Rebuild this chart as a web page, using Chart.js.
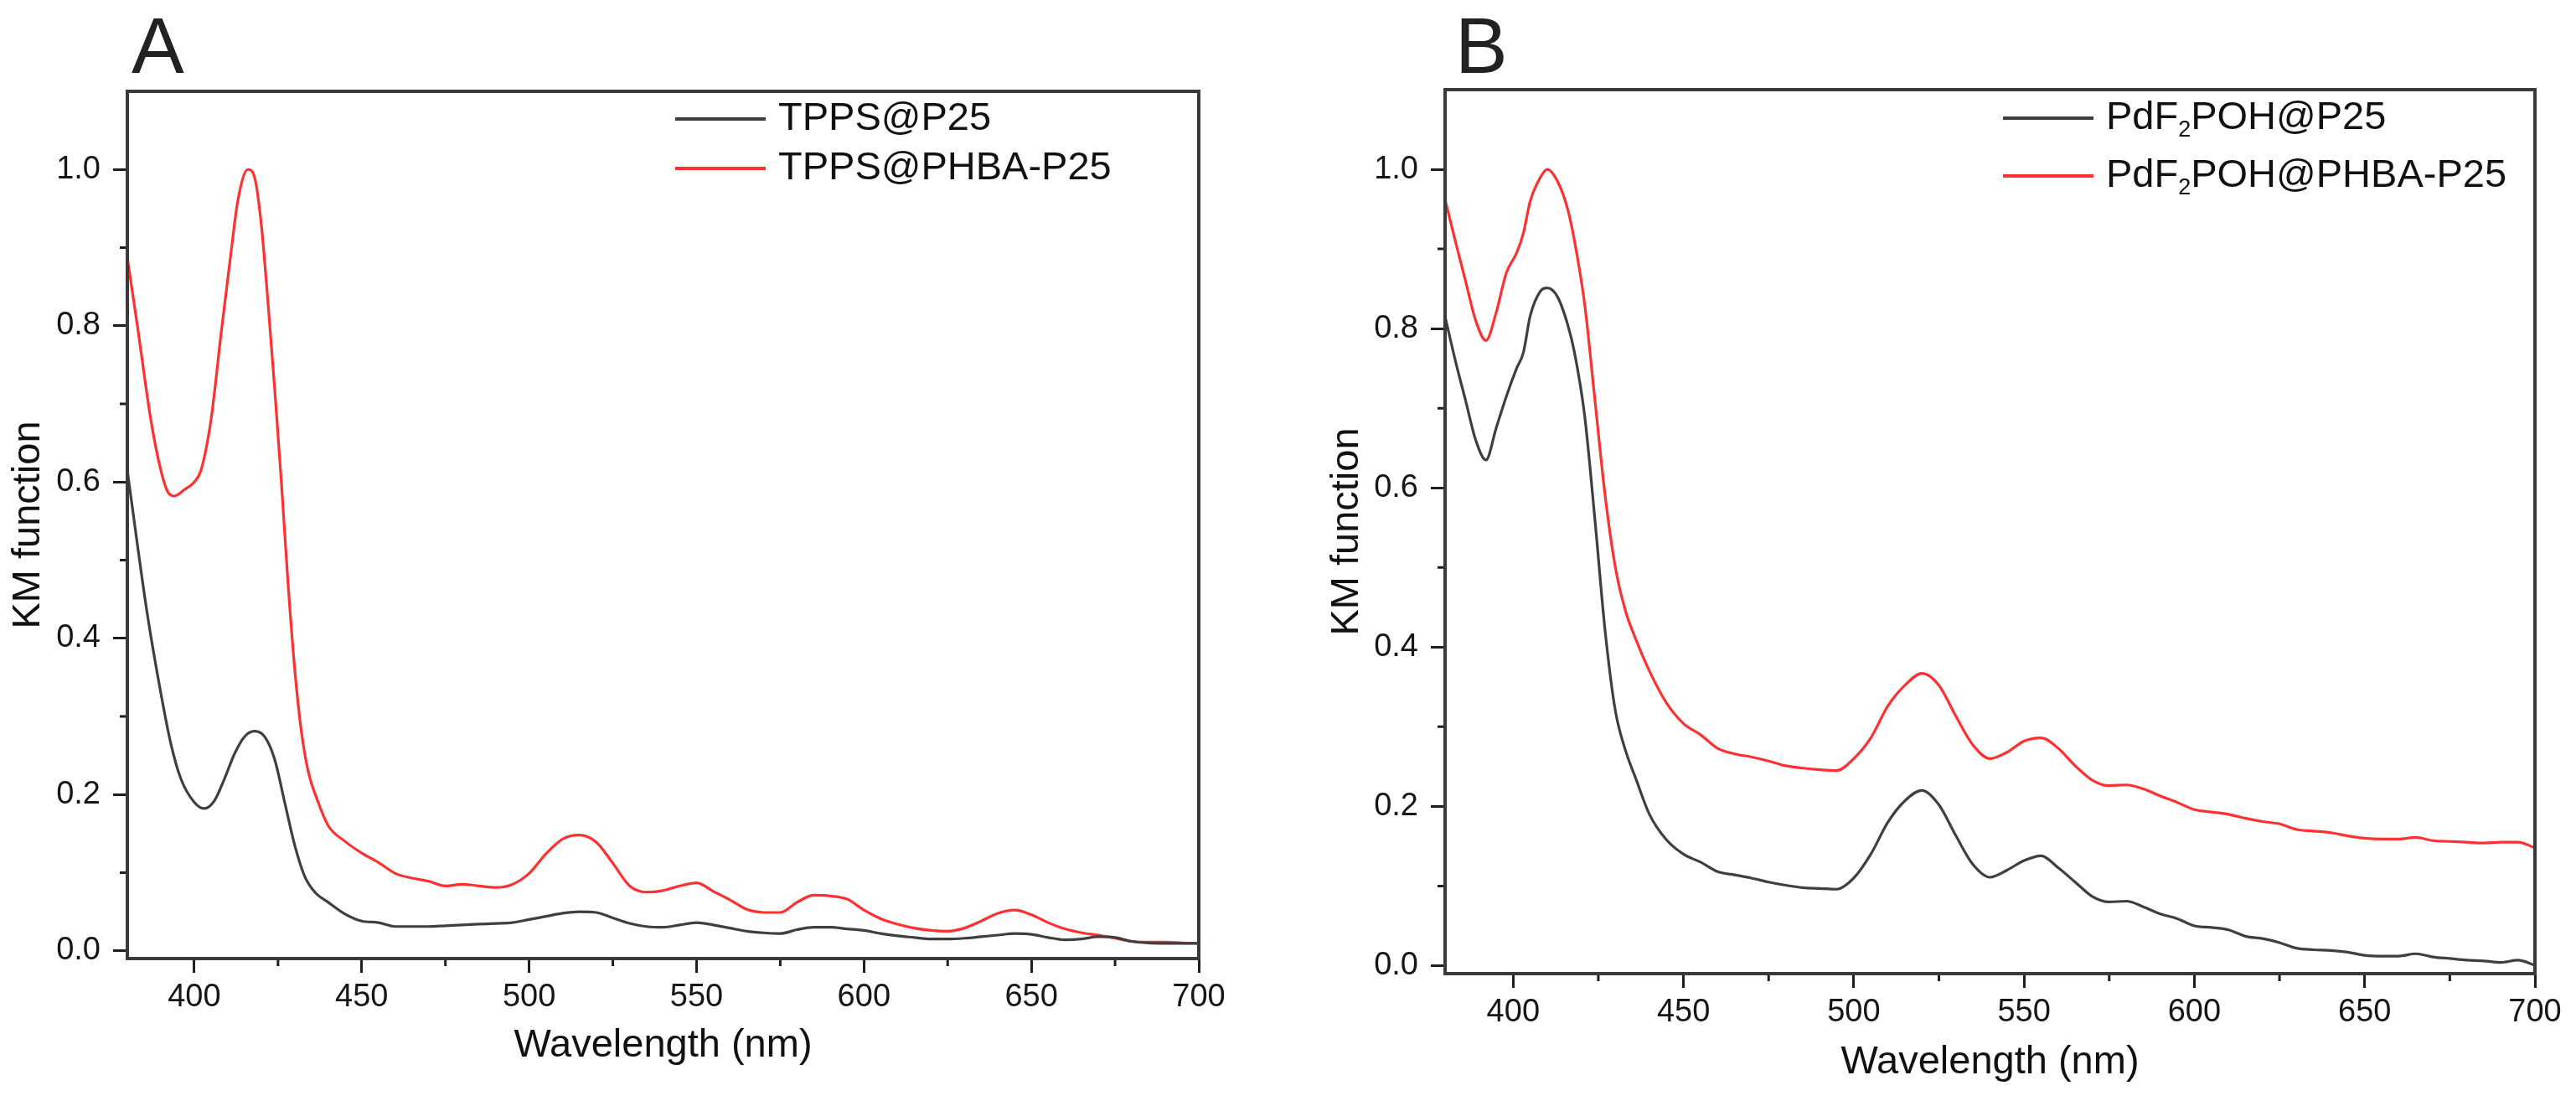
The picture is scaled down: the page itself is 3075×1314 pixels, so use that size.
<!DOCTYPE html>
<html>
<head>
<meta charset="utf-8">
<script src="https://cdn.jsdelivr.net/npm/chart.js@4.4.1/dist/chart.umd.min.js"></script>
<style>
    html, body { margin: 0; padding: 0; background: #fff; }
    body { width: 3075px; height: 1314px; position: relative; overflow: hidden; }
    canvas { position: absolute; top: 0; }
    #chartA { left: 0; }
    #chartB { left: 1560px; }
</style>
</head>
<body>
<canvas id="chartA" width="1540" height="1314"></canvas>
<canvas id="chartB" width="1515" height="1314"></canvas>
<script>
"use strict";

// axis ticks
const xTickValues = [400, 450, 500, 550, 600, 650, 700];
const xMinorValues = [425, 475, 525, 575, 625, 675];
const yTickValues = [0.0, 0.2, 0.4, 0.6, 0.8, 1.0];
const yMinorValues = [0.1, 0.3, 0.5, 0.7, 0.9];

// panel A
const namesA = ['TPPS@P25', 'TPPS@PHBA-P25'];

const waveA_P25 = [380, 383, 386, 390, 393, 396, 400, 403, 406, 409, 412, 415, 418, 421, 424, 427, 430, 433, 436, 440,
    445, 450, 455, 460, 465, 470, 475, 480, 485, 490, 495, 500, 505, 510, 515, 520, 525, 530, 535, 540,
    545, 550, 555, 560, 565, 570, 575, 580, 585, 590, 595, 600, 605, 610, 615, 620, 625, 630, 635, 640,
    645, 650, 655, 660, 665, 670, 675, 680, 685, 690, 695, 700];
const kmA_P25 = [0.615, 0.52, 0.43, 0.33, 0.265, 0.22, 0.19, 0.182, 0.192, 0.22, 0.252, 0.274, 0.281, 0.274, 0.245, 0.19, 0.135, 0.095, 0.075, 0.062,
    0.047, 0.038, 0.036, 0.031, 0.031, 0.031, 0.032, 0.033, 0.034, 0.035, 0.036, 0.04, 0.044, 0.048, 0.05, 0.049, 0.042, 0.035, 0.031, 0.03,
    0.033, 0.036, 0.033, 0.029, 0.025, 0.023, 0.022, 0.027, 0.03, 0.03, 0.028, 0.026, 0.022, 0.019, 0.017, 0.015, 0.015, 0.016, 0.018, 0.02,
    0.022, 0.021, 0.017, 0.014, 0.015, 0.018, 0.017, 0.012, 0.01, 0.0095, 0.0095, 0.0095];

const waveA_PHBA = [380, 383, 387, 390, 392, 394, 397, 400, 402, 405, 408, 411, 413, 416, 418, 420, 422, 424, 426, 428, 430,
    432, 434, 437, 440, 445, 450, 455, 460, 465, 470, 475, 480, 485, 490, 495, 500, 505, 510, 515, 520,
    525, 530, 535, 540, 545, 550, 555, 560, 565, 570, 575, 580, 585, 590, 595, 600, 605, 610, 615, 620,
    625, 630, 635, 640, 645, 650, 655, 660, 665, 670, 675, 680, 685, 690, 695, 700];
const kmA_PHBA = [0.887, 0.80, 0.68, 0.615, 0.588, 0.582, 0.59, 0.60, 0.615, 0.68, 0.79, 0.895, 0.96, 1.0, 0.99, 0.93, 0.83, 0.72, 0.60, 0.47, 0.36,
    0.28, 0.23, 0.19, 0.16, 0.14, 0.125, 0.113, 0.099, 0.093, 0.089, 0.083, 0.085, 0.083, 0.081, 0.085, 0.099, 0.124, 0.143, 0.148, 0.139,
    0.112, 0.083, 0.075, 0.077, 0.083, 0.087, 0.076, 0.065, 0.053, 0.049, 0.049, 0.062, 0.071, 0.07, 0.066, 0.052, 0.041, 0.034, 0.029, 0.026,
    0.025, 0.029, 0.038, 0.048, 0.052, 0.046, 0.036, 0.028, 0.023, 0.02, 0.016, 0.012, 0.011, 0.011, 0.010, 0.0095];

// panel B
const namesB = ['PdF\u2082POH@P25', 'PdF\u2082POH@PHBA-P25'];

const waveB_P25 = [380, 383, 386, 389, 392, 395, 398, 401, 403, 405, 408, 410, 413, 416, 418, 421, 424, 427, 430, 433,
    436, 440, 445, 450, 455, 460, 465, 470, 475, 480, 485, 490, 495, 500, 505, 510, 515, 520, 525, 530,
    535, 540, 545, 550, 555, 560, 565, 570, 575, 580, 585, 590, 595, 600, 605, 610, 615, 620, 625, 630,
    635, 640, 645, 650, 655, 660, 665, 670, 675, 680, 685, 690, 695, 700];
const kmB_P25 = [0.815, 0.76, 0.71, 0.66, 0.635, 0.675, 0.715, 0.75, 0.77, 0.816, 0.847, 0.851, 0.84, 0.805, 0.77, 0.69, 0.56, 0.42, 0.32, 0.27,
    0.235, 0.19, 0.158, 0.14, 0.13, 0.118, 0.114, 0.11, 0.105, 0.101, 0.098, 0.097, 0.096, 0.11, 0.14, 0.18, 0.207, 0.22, 0.202, 0.163,
    0.127, 0.111, 0.12, 0.132, 0.138, 0.123, 0.105, 0.087, 0.08, 0.081, 0.074, 0.065, 0.059, 0.05, 0.048, 0.045, 0.037, 0.034, 0.029, 0.022,
    0.02, 0.019, 0.017, 0.013, 0.012, 0.012, 0.015, 0.011, 0.009, 0.007, 0.006, 0.004, 0.007, 0.0005];

const waveB_PHBA = [380, 383, 386, 389, 392, 395, 398, 401, 403, 405, 408, 410, 413, 416, 418, 421, 424, 427, 430, 433,
    436, 440, 445, 450, 455, 460, 465, 470, 475, 480, 485, 490, 495, 500, 505, 510, 515, 520, 525, 530,
    535, 540, 545, 550, 555, 560, 565, 570, 575, 580, 585, 590, 595, 600, 605, 610, 615, 620, 625, 630,
    635, 640, 645, 650, 655, 660, 665, 670, 675, 680, 685, 690, 695, 700];
const kmB_PHBA = [0.962, 0.91, 0.86, 0.81, 0.785, 0.82, 0.87, 0.895, 0.92, 0.96, 0.99, 1.0, 0.985, 0.95, 0.91, 0.83, 0.71, 0.59, 0.50, 0.445,
    0.41, 0.37, 0.33, 0.304, 0.29, 0.273, 0.266, 0.262, 0.257, 0.251, 0.248, 0.246, 0.245, 0.26, 0.286, 0.326, 0.352, 0.367, 0.352, 0.313,
    0.277, 0.26, 0.268, 0.282, 0.286, 0.273, 0.251, 0.233, 0.226, 0.227, 0.222, 0.213, 0.205, 0.196, 0.193, 0.19, 0.185, 0.181, 0.178, 0.171,
    0.169, 0.167, 0.163, 0.16, 0.159, 0.159, 0.161, 0.157, 0.156, 0.155, 0.154, 0.155, 0.155, 0.148];


const FONT = '"Liberation Sans", Arial, Helvetica, sans-serif';
const GRAY = '#3f3f3f';
const RED = '#ff3030';

Chart.defaults.font.family = FONT;
Chart.defaults.color = '#161616';

function toPoints(xs, ys) {
    return xs.map((x, i) => ({x: x, y: ys[i]}));
}

// frame round the plot and the short minor ticks
const framePlugin = {
    id: 'frame',
    afterDraw(chart) {
        const {ctx, chartArea: a, scales} = chart;
        ctx.save();
        ctx.strokeStyle = '#1e1e1e';
        ctx.lineWidth = 3;
        ctx.beginPath();
        xMinorValues.forEach(v => {
            const px = scales.x.getPixelForValue(v);
            ctx.moveTo(px, a.bottom);
            ctx.lineTo(px, a.bottom + 9);
        });
        yMinorValues.forEach(v => {
            const py = scales.y.getPixelForValue(v);
            ctx.moveTo(a.left, py);
            ctx.lineTo(a.left - 9, py);
        });
        ctx.stroke();
        ctx.strokeStyle = '#3a3a3a';
        ctx.lineWidth = 4;
        ctx.strokeRect(a.left, a.top, a.right - a.left, a.bottom - a.top);
        ctx.restore();
    }
};

// draws "2" after F as a subscript
function drawLabel(ctx, text, x, y, size) {
    const parts = text.split('\u2082');
    let cx = x;
    ctx.font = size + 'px ' + FONT;
    ctx.fillText(parts[0], cx, y);
    cx += ctx.measureText(parts[0]).width;
    if (parts.length > 1) {
        const sub = Math.round(size * 0.58);
        ctx.font = sub + 'px ' + FONT;
        ctx.fillText('2', cx, y + size * 0.3);
        cx += ctx.measureText('2').width;
        ctx.font = size + 'px ' + FONT;
        ctx.fillText(parts[1], cx, y);
    }
}

const panelLegend = {
    id: 'panelLegend',
    afterDraw(chart, args, opts) {
        const ctx = chart.ctx;
        ctx.save();
        ctx.textBaseline = 'middle';
        ctx.fillStyle = '#111';
        chart.data.datasets.forEach((ds, i) => {
            const y = opts.y + i * opts.gap;
            ctx.strokeStyle = ds.borderColor;
            ctx.lineWidth = 4;
            ctx.beginPath();
            ctx.moveTo(opts.x, y);
            ctx.lineTo(opts.x + 108, y);
            ctx.stroke();
            drawLabel(ctx, ds.label, opts.x + 123, y, 47);
        });
        // panel letter
        ctx.textBaseline = 'alphabetic';
        ctx.fillStyle = '#222';
        ctx.font = '94px ' + FONT;
        ctx.fillText(opts.letter, opts.letterX, 87);
        ctx.restore();
    }
};

function makePanel(id, p, names, series) {
    const ctx = document.getElementById(id).getContext('2d');
    const colors = [GRAY, RED];
    new Chart(ctx, {
        type: 'line',
        data: {
            datasets: series.map((s, i) => ({
                label: names[i],
                data: toPoints(s[0], s[1]),
                borderColor: colors[i],
                borderWidth: 3.2,
                pointRadius: 0,
                tension: 0.4,
                cubicInterpolationMode: 'monotone',
                fill: false,
            })),
        },
        options: {
            responsive: false,
            animation: false,
            layout: {padding: {left: 0, top: p.top, right: p.right, bottom: 0}},
            plugins: {
                legend: {display: false},
                tooltip: {enabled: false},
                panelLegend: {x: p.legX, y: p.legY, gap: p.legGap, letter: p.letter, letterX: p.letterX},
            },
            scales: {
                x: {
                    type: 'linear',
                    min: 380,
                    max: 700,
                    afterBuildTicks: s => { s.ticks = xTickValues.map(v => ({value: v})); },
                    afterFit: s => { s.height = p.xAxisH; },
                    border: {display: false},
                    grid: {drawOnChartArea: false, drawTicks: true, tickLength: 17, tickWidth: 3, tickColor: '#1e1e1e'},
                    ticks: {padding: 7, font: {size: 38}, maxRotation: 0, autoSkip: false, callback: v => String(v)},
                    title: {display: true, text: 'Wavelength (nm)', font: {size: 47}, color: '#111', padding: {top: 0, bottom: p.xTitlePad}},
                },
                y: {
                    type: 'linear',
                    min: -0.01,
                    max: 1.1,
                    afterBuildTicks: s => { s.ticks = yTickValues.map(v => ({value: v})); },
                    afterFit: s => { s.width = p.yAxisW; },
                    border: {display: false},
                    grid: {drawOnChartArea: false, drawTicks: true, tickLength: 17, tickWidth: 3, tickColor: '#1e1e1e'},
                    ticks: {padding: 15, font: {size: 38}, callback: v => v.toFixed(1)},
                    title: {display: true, text: 'KM function', font: {size: 47}, color: '#111', padding: {top: p.yTitlePad, bottom: 0}},
                },
            },
        },
        plugins: [framePlugin, panelLegend],
    });
}

makePanel('chartA', {
    top: 109, right: 109, xAxisH: 170, yAxisW: 152, xTitlePad: 38, yTitlePad: 6,
    legX: 806, legY: 142, legGap: 59, letter: 'A', letterX: 157,
}, namesA, [[waveA_P25, kmA_P25], [waveA_PHBA, kmA_PHBA]]);

makePanel('chartB', {
    top: 107, right: 49, xAxisH: 152, yAxisW: 165, xTitlePad: 18, yTitlePad: 20,
    legX: 831, legY: 141, legGap: 69, letter: 'B', letterX: 177,
}, namesB, [[waveB_P25, kmB_P25], [waveB_PHBA, kmB_PHBA]]);
</script>
</body>
</html>
